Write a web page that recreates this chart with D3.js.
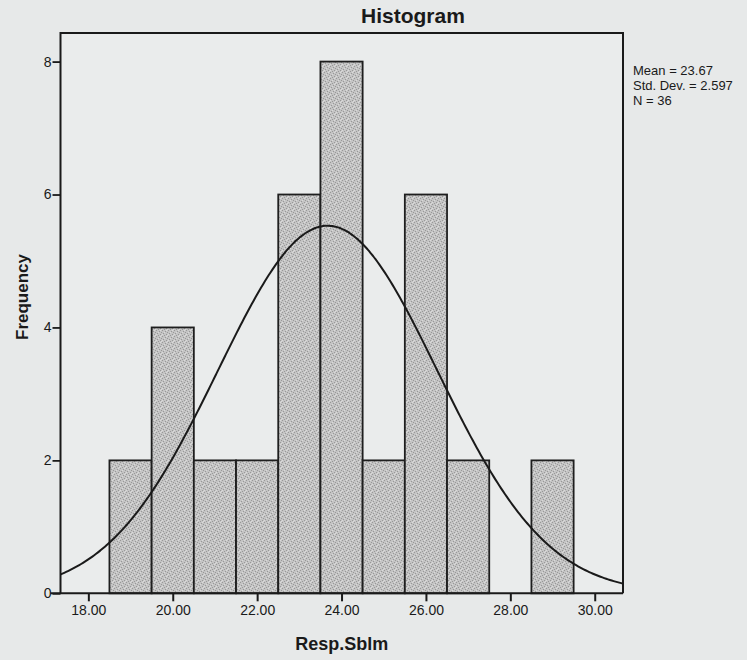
<!DOCTYPE html>
<html>
<head>
<meta charset="utf-8">
<script src="https://cdn.jsdelivr.net/npm/d3@7"></script>
<style>
  html, body { margin: 0; padding: 0; background: #e7e9e9; }
  svg { display: block; }
  text { font-family: "Liberation Sans", Arial, sans-serif; fill: #1a1a1a; }
</style>
</head>
<body>
<svg id="chart" width="747" height="660"></svg>
<script>
// ---- data ----
const binStarts = [18.5, 19.5, 20.5, 21.5, 22.5, 23.5, 24.5, 25.5, 26.5, 27.5, 28.5];
const binCounts = [2, 4, 2, 2, 6, 8, 2, 6, 2, 0, 2];
const binWidth = 1;
const xTicks = [18, 20, 22, 24, 26, 28, 30];
const yTicks = [0, 2, 4, 6, 8];
const stats = { mean: 23.67, sd: 2.597, n: 36 };
const statLabels = ["Mean = 23.67", "Std. Dev. = 2.597", "N = 36"];
const titleText = "Histogram";
const xLabel = "Resp.Sblm";
const yLabel = "Frequency";

// ---- layout ----
const L = 60.5, R = 623, T = 33, B = 593.3;
const svg = d3.select("#chart");

const defs = svg.append("defs");
const pat = defs.append("pattern").attr("id", "stip").attr("patternUnits", "userSpaceOnUse")
  .attr("width", 6).attr("height", 6);
pat.append("rect").attr("width", 6).attr("height", 6).attr("fill", "#c4c4c4");
[[0,0],[3,1],[1,3],[4,4],[5,2],[2,5]].forEach(([a,b]) =>
  pat.append("rect").attr("x", a).attr("y", b).attr("width", 1).attr("height", 1).attr("fill", "#989898"));
[[2,2],[5,5],[0,4],[4,0]].forEach(([a,b]) =>
  pat.append("rect").attr("x", a).attr("y", b).attr("width", 1).attr("height", 1).attr("fill", "#dadada"));

const x = d3.scaleLinear().domain([17.34, 30.67]).range([L, R]);
const y = d3.scaleLinear().domain([0, 8.43]).range([B, T]);

// plot background
svg.append("rect").attr("x", L).attr("y", T).attr("width", R - L).attr("height", B - T)
  .attr("fill", "#eaecec");

// bars
svg.append("g").selectAll("rect").data(binStarts.map((s, i) => ({ s, c: binCounts[i] })).filter(d => d.c > 0))
  .join("rect")
  .attr("x", d => x(d.s))
  .attr("y", d => y(d.c))
  .attr("width", d => x(d.s + binWidth) - x(d.s))
  .attr("height", d => y(0) - y(d.c))
  .attr("fill", "url(#stip)")
  .attr("stroke", "#1e1e1e")
  .attr("stroke-width", 1.8);

// normal curve
const [x0, x1] = x.domain();
const pts = d3.range(0, 301).map(i => {
  const v = x0 + (x1 - x0) * i / 300;
  const z = (v - stats.mean) / stats.sd;
  return [v, stats.n * binWidth * Math.exp(-0.5 * z * z) / (stats.sd * Math.sqrt(2 * Math.PI))];
});
svg.append("path").datum(pts)
  .attr("d", d3.line().x(d => x(d[0])).y(d => y(d[1])).curve(d3.curveBasis))
  .attr("fill", "none").attr("stroke", "#1a1a1a").attr("stroke-width", 2);

// frame (top, left, right)
svg.append("path")
  .attr("d", `M${L},${B}V${T}H${R}V${B}`)
  .attr("fill", "none").attr("stroke", "#1a1a1a").attr("stroke-width", 2);

// x axis
const xAxis = svg.append("g").attr("transform", `translate(0,${B})`)
  .call(d3.axisBottom(x).tickValues(xTicks).tickFormat(d3.format(".2f")).tickSize(8).tickPadding(4));
xAxis.select(".domain").attr("d", `M${L - 10},0H${R}`).attr("stroke", "#1a1a1a").attr("stroke-width", 2);
xAxis.selectAll(".tick line").attr("stroke", "#1a1a1a").attr("stroke-width", 2);
xAxis.selectAll(".tick text").style("font-size", "14px").attr("fill", "#1a1a1a")
  .style("font-family", "'Liberation Sans',Arial,sans-serif");

// y axis
const yAxis = svg.append("g").attr("transform", `translate(${L},0)`)
  .call(d3.axisLeft(y).tickValues(yTicks).tickFormat(d3.format("d")).tickSize(8).tickPadding(1));
yAxis.select(".domain").remove();
yAxis.selectAll(".tick line").attr("stroke", "#1a1a1a").attr("stroke-width", 1.8);
yAxis.selectAll(".tick text").style("font-size", "14px").attr("fill", "#1a1a1a")
  .style("font-family", "'Liberation Sans',Arial,sans-serif");

// title
svg.append("text").attr("x", 361).attr("y", 23).text(titleText)
  .style("font-size", "21px").style("font-weight", "bold");

// axis labels
svg.append("text").attr("x", (L + R) / 2).attr("y", 650).attr("text-anchor", "middle")
  .text(xLabel).style("font-size", "18px").style("font-weight", "bold");
svg.append("text").attr("transform", `translate(28,297) rotate(-90)`)
  .attr("text-anchor", "middle").text(yLabel).style("font-size", "17px").style("font-weight", "bold");

// stats box
svg.append("g").selectAll("text").data(statLabels).join("text")
  .attr("x", 633).attr("y", (d, i) => 75 + i * 15).text(d => d)
  .style("font-size", "13px");
</script>
</body>
</html>
